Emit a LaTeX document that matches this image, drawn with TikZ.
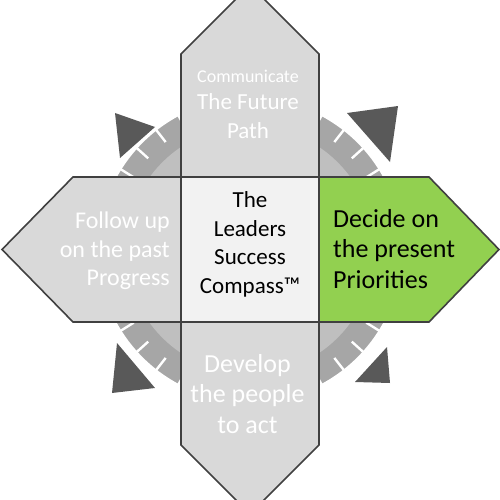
\documentclass[tikz,border=0pt]{standalone}
\usepackage{fontspec}
\setmainfont{Carlito}
\definecolor{arrowgray}{HTML}{D9D9D9}
\definecolor{edgegray}{HTML}{404040}
\definecolor{ringdark}{HTML}{A6A6A6}
\definecolor{ringlight}{HTML}{BFBFBF}
\definecolor{needle}{HTML}{595959}
\definecolor{centerfill}{HTML}{F2F2F2}
\definecolor{greenfill}{HTML}{92D050}
\tikzset{
  arrowshape/.style={fill=arrowgray, draw=edgegray, line width=1.6pt, line join=miter},
  greenshape/.style={fill=greenfill, draw=edgegray, line width=1.6pt, line join=miter},
  centershape/.style={fill=centerfill, draw=edgegray, line width=1.6pt},
  needleshape/.style={fill=needle, draw=none},
  tickline/.style={draw=white, line width=2.4pt},
  wtxt/.style={inner sep=0pt, text=white},
  btxt/.style={inner sep=0pt, text=black},
  fA/.style={font=\fontsize{18}{22}\selectfont},
  fB/.style={font=\fontsize{23}{28}\selectfont},
  fC/.style={font=\fontsize{24}{29}\selectfont},
  fD/.style={font=\fontsize{26}{31}\selectfont},
}
\begin{document}
\begin{tikzpicture}[x=1pt, y=-1pt]
\useasboundingbox (0,0) rectangle (500,500);
% compass needles
\fill[needleshape] (115,113) -- (155,127) -- (120,158) -- cycle;
\fill[needleshape] (347,113) -- (398,106) -- (390,162) -- cycle;
\fill[needleshape] (117,343) -- (112,393) -- (155,388) -- cycle;
\fill[needleshape] (387,347) -- (390,383) -- (355,382) -- cycle;
% compass ring
\coordinate (c) at (250,250);
\filldraw[fill=ringdark, draw=white, line width=2.5pt] (c) circle[radius=153pt];
\fill[ringlight] (c) circle[radius=124pt];
\foreach \a in {32,42,52,62}{
  \foreach \b in {\a, 180-\a, 180+\a, 360-\a}{
    \draw[tickline] ({250+153*cos(\b)},{250-153*sin(\b)}) -- ({250+137*cos(\b)},{250-137*sin(\b)});
  }
}
% arrows
\draw[arrowshape] (181,177) -- (73,177) -- (2,249.5) -- (73,322) -- (181,322) -- cycle;
\draw[greenshape] (319,177) -- (429,177) -- (499,249.5) -- (429,322) -- (319,322) -- cycle;
\draw[arrowshape] (181,177) -- (181,54) -- (250,-15) -- (319,54) -- (319,177) -- cycle;
\draw[arrowshape] (181,322) -- (181,445) -- (250,514) -- (319,445) -- (319,322) -- cycle;
\draw[centershape] (181,177) rectangle (319,322);
% texts
\node[wtxt, fA, anchor=base] (t1) at (248,83) {Communicate};
\node[wtxt, fB, anchor=base] (t2) at (248,110) {The Future};
\node[wtxt, fB, anchor=base] (t3) at (248,138) {Path};
\node[btxt, fB, anchor=base] (c1) at (250,207) {The};
\node[btxt, fB, anchor=base] (c2) at (250,236) {Leaders};
\node[btxt, fB, anchor=base] (c3) at (250,264) {Success};
\node[btxt, fB, anchor=base] (c4) at (250,293) {Compass™};
\node[wtxt, fC, anchor=base east] (l1) at (170,228) {Follow up};
\node[wtxt, fC, anchor=base east] (l2) at (170,257) {on the past};
\node[wtxt, fC, anchor=base east] (l3) at (170,285) {Progress};
\node[btxt, fD, anchor=base west] (r1) at (333,227) {Decide on};
\node[btxt, fD, anchor=base west] (r2) at (333,257) {the present};
\node[btxt, fD, anchor=base west] (r3) at (333,288) {Priorities};
\node[wtxt, fD, anchor=base] (b1) at (247.5,372) {Develop};
\node[wtxt, fD, anchor=base] (b2) at (247.5,402) {the people};
\node[wtxt, fD, anchor=base] (b3) at (247.5,433) {to act};
\end{tikzpicture}
\end{document}
